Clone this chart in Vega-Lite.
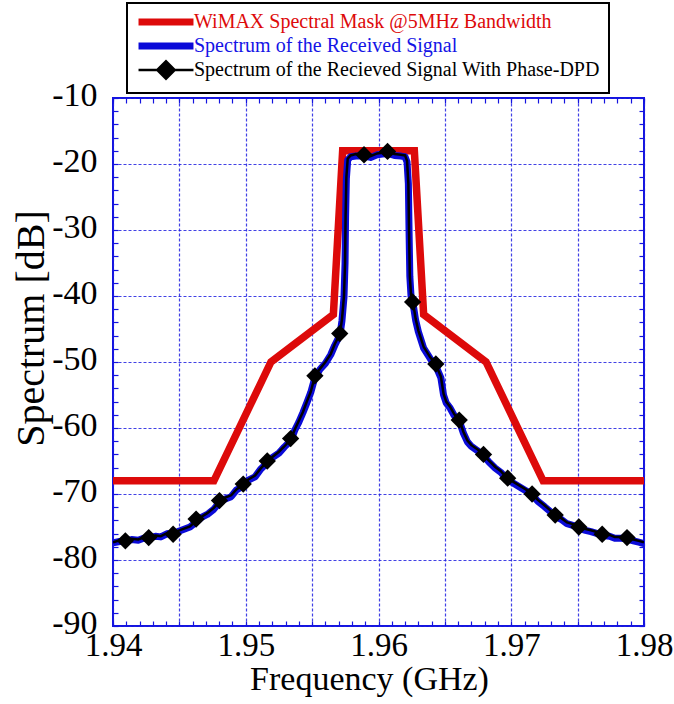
{
  "$schema": "https://vega.github.io/schema/vega-lite/v6.json",
  "width": 531,
  "height": 528,
  "autosize": "none",
  "padding": {"left": 113, "top": 98, "right": 30, "bottom": 78},
  "background": "white",
  "config": {
    "font": "Liberation Serif",
    "text": {"font": "Liberation Serif"},
    "style": {"guide-label": {"font": "Liberation Serif"}, "guide-title": {"font": "Liberation Serif"}},
    "view": {"stroke": "#1414e0", "strokeWidth": 2},
    "axis": {"domain": false, "labelFont": "Liberation Serif", "titleFont": "Liberation Serif", "labelColor": "black", "titleColor": "black", "titleFontWeight": "normal", "tickColor": "#1414e0", "tickWidth": 1.2, "labelOverlap": false, "labelFlush": false}
  },
  "datasets": {
    "mask": [
      {"f": 1.94, "v": -68}, {"f": 1.9476, "v": -68}, {"f": 1.9519, "v": -50}, {"f": 1.9566, "v": -42.8},
      {"f": 1.9573, "v": -18}, {"f": 1.9627, "v": -18}, {"f": 1.9634, "v": -42.8}, {"f": 1.9681, "v": -50},
      {"f": 1.9724, "v": -68}, {"f": 1.98, "v": -68}
    ],
    "rx": [
      {"f": 1.9400, "v": -77.4}, {"f": 1.9405, "v": -77.2}, {"f": 1.9409, "v": -77.2}, {"f": 1.9414, "v": -76.9},
      {"f": 1.9419, "v": -77.0}, {"f": 1.9423, "v": -76.7}, {"f": 1.9427, "v": -76.7}, {"f": 1.9432, "v": -76.4},
      {"f": 1.9436, "v": -76.5}, {"f": 1.9441, "v": -76.0}, {"f": 1.9445, "v": -76.1}, {"f": 1.9450, "v": -75.6},
      {"f": 1.9454, "v": -75.3}, {"f": 1.9458, "v": -75.0}, {"f": 1.9463, "v": -74.2}, {"f": 1.9467, "v": -73.5},
      {"f": 1.9471, "v": -73.1}, {"f": 1.9476, "v": -72.3}, {"f": 1.9480, "v": -71.3}, {"f": 1.9484, "v": -70.8},
      {"f": 1.9489, "v": -70.4}, {"f": 1.9493, "v": -69.4}, {"f": 1.9498, "v": -68.8}, {"f": 1.9502, "v": -67.9},
      {"f": 1.9507, "v": -67.4}, {"f": 1.9511, "v": -66.3}, {"f": 1.9516, "v": -65.3}, {"f": 1.9520, "v": -64.5},
      {"f": 1.9525, "v": -63.8}, {"f": 1.9529, "v": -62.9}, {"f": 1.9534, "v": -61.9}, {"f": 1.9537, "v": -60.3},
      {"f": 1.9540, "v": -59.1}, {"f": 1.9543, "v": -57.7}, {"f": 1.9546, "v": -56.2}, {"f": 1.9549, "v": -54.6},
      {"f": 1.9552, "v": -52.4}, {"f": 1.9556, "v": -51.1}, {"f": 1.9560, "v": -50.2}, {"f": 1.9564, "v": -48.9},
      {"f": 1.9567, "v": -47.5}, {"f": 1.9571, "v": -45.9}, {"f": 1.95725, "v": -43.7}, {"f": 1.9574, "v": -40.2},
      {"f": 1.95748, "v": -35}, {"f": 1.95752, "v": -28}, {"f": 1.95758, "v": -22.2}, {"f": 1.95768, "v": -19.4},
      {"f": 1.9579, "v": -18.9}, {"f": 1.9583, "v": -18.8}, {"f": 1.9589, "v": -18.8}, {"f": 1.9594, "v": -19.0},
      {"f": 1.9599, "v": -18.6}, {"f": 1.9603, "v": -18.5}, {"f": 1.9607, "v": -18.4}, {"f": 1.9612, "v": -18.7},
      {"f": 1.9617, "v": -18.8}, {"f": 1.9620, "v": -18.9}, {"f": 1.96215, "v": -19.7}, {"f": 1.96225, "v": -23},
      {"f": 1.9623, "v": -30}, {"f": 1.96236, "v": -37}, {"f": 1.96245, "v": -40}, {"f": 1.9626, "v": -41.1},
      {"f": 1.9628, "v": -43.7}, {"f": 1.9630, "v": -45.4}, {"f": 1.9634, "v": -47.9}, {"f": 1.9639, "v": -49.5},
      {"f": 1.9643, "v": -50.5}, {"f": 1.9647, "v": -52.4}, {"f": 1.9649, "v": -55.0}, {"f": 1.9651, "v": -56.2},
      {"f": 1.9654, "v": -57.0}, {"f": 1.9657, "v": -58.1}, {"f": 1.9661, "v": -59.0}, {"f": 1.9664, "v": -60.8},
      {"f": 1.9667, "v": -62.1}, {"f": 1.9670, "v": -62.8}, {"f": 1.9675, "v": -63.5}, {"f": 1.9679, "v": -64.2},
      {"f": 1.9683, "v": -65.1}, {"f": 1.9688, "v": -66.1}, {"f": 1.9692, "v": -66.7}, {"f": 1.9697, "v": -67.8},
      {"f": 1.9702, "v": -68.4}, {"f": 1.9706, "v": -68.9}, {"f": 1.9711, "v": -69.5}, {"f": 1.9716, "v": -70.2},
      {"f": 1.9720, "v": -71.1}, {"f": 1.9725, "v": -71.9}, {"f": 1.9729, "v": -72.6}, {"f": 1.9733, "v": -73.4},
      {"f": 1.9738, "v": -73.9}, {"f": 1.9742, "v": -74.5}, {"f": 1.9747, "v": -74.8}, {"f": 1.9751, "v": -75.2},
      {"f": 1.9756, "v": -75.5}, {"f": 1.9760, "v": -75.7}, {"f": 1.9765, "v": -76.0}, {"f": 1.9769, "v": -76.3},
      {"f": 1.9774, "v": -76.4}, {"f": 1.9778, "v": -76.7}, {"f": 1.9783, "v": -76.7}, {"f": 1.9787, "v": -76.8},
      {"f": 1.9792, "v": -77.1}, {"f": 1.9796, "v": -77.3}, {"f": 1.9800, "v": -77.5}
    ],
    "dpd": [
      {"f": 1.9400, "v": -77.3}, {"f": 1.9405, "v": -77.0}, {"f": 1.9409, "v": -77.1}, {"f": 1.9414, "v": -76.8},
      {"f": 1.9419, "v": -76.9}, {"f": 1.9423, "v": -76.6}, {"f": 1.9427, "v": -76.6}, {"f": 1.9432, "v": -76.3},
      {"f": 1.9436, "v": -76.4}, {"f": 1.9441, "v": -75.9}, {"f": 1.9445, "v": -76.0}, {"f": 1.9450, "v": -75.5},
      {"f": 1.9454, "v": -75.2}, {"f": 1.9458, "v": -74.9}, {"f": 1.9463, "v": -74.0}, {"f": 1.9467, "v": -73.4},
      {"f": 1.9471, "v": -72.9}, {"f": 1.9476, "v": -72.1}, {"f": 1.9480, "v": -71.2}, {"f": 1.9484, "v": -70.6},
      {"f": 1.9489, "v": -70.2}, {"f": 1.9493, "v": -69.3}, {"f": 1.9498, "v": -68.6}, {"f": 1.9502, "v": -67.8},
      {"f": 1.9507, "v": -67.2}, {"f": 1.9511, "v": -66.2}, {"f": 1.9516, "v": -65.1}, {"f": 1.9520, "v": -64.4},
      {"f": 1.9525, "v": -63.6}, {"f": 1.9529, "v": -62.8}, {"f": 1.9534, "v": -61.7}, {"f": 1.9537, "v": -60.2},
      {"f": 1.9540, "v": -58.9}, {"f": 1.9543, "v": -57.6}, {"f": 1.9546, "v": -56.0}, {"f": 1.9549, "v": -54.5},
      {"f": 1.9552, "v": -52.2}, {"f": 1.9556, "v": -51.0}, {"f": 1.9560, "v": -50.0}, {"f": 1.9564, "v": -48.8},
      {"f": 1.9567, "v": -47.3}, {"f": 1.9571, "v": -45.7}, {"f": 1.95725, "v": -43.5}, {"f": 1.9574, "v": -40},
      {"f": 1.95748, "v": -35}, {"f": 1.95752, "v": -28}, {"f": 1.95758, "v": -22}, {"f": 1.95768, "v": -19.2},
      {"f": 1.9579, "v": -18.7}, {"f": 1.9583, "v": -18.5}, {"f": 1.9589, "v": -18.6}, {"f": 1.9594, "v": -18.8},
      {"f": 1.9599, "v": -18.4}, {"f": 1.9603, "v": -18.3}, {"f": 1.9607, "v": -18.1}, {"f": 1.9612, "v": -18.5},
      {"f": 1.9617, "v": -18.6}, {"f": 1.9620, "v": -18.7}, {"f": 1.96215, "v": -19.5}, {"f": 1.96225, "v": -23},
      {"f": 1.9623, "v": -30}, {"f": 1.96236, "v": -37}, {"f": 1.96245, "v": -39.8}, {"f": 1.9626, "v": -40.9},
      {"f": 1.9628, "v": -43.5}, {"f": 1.9630, "v": -45.2}, {"f": 1.9634, "v": -47.7}, {"f": 1.9639, "v": -49.3},
      {"f": 1.9643, "v": -50.3}, {"f": 1.9647, "v": -52.2}, {"f": 1.9649, "v": -54.8}, {"f": 1.9651, "v": -56.0},
      {"f": 1.9654, "v": -56.8}, {"f": 1.9657, "v": -57.9}, {"f": 1.9661, "v": -58.8}, {"f": 1.9664, "v": -60.6},
      {"f": 1.9667, "v": -61.9}, {"f": 1.9670, "v": -62.6}, {"f": 1.9675, "v": -63.3}, {"f": 1.9679, "v": -64.0},
      {"f": 1.9683, "v": -64.9}, {"f": 1.9688, "v": -65.9}, {"f": 1.9692, "v": -66.5}, {"f": 1.9697, "v": -67.6},
      {"f": 1.9702, "v": -68.2}, {"f": 1.9706, "v": -68.7}, {"f": 1.9711, "v": -69.3}, {"f": 1.9716, "v": -70.0},
      {"f": 1.9720, "v": -70.9}, {"f": 1.9725, "v": -71.7}, {"f": 1.9729, "v": -72.4}, {"f": 1.9733, "v": -73.2},
      {"f": 1.9738, "v": -73.7}, {"f": 1.9742, "v": -74.3}, {"f": 1.9747, "v": -74.6}, {"f": 1.9751, "v": -75.0},
      {"f": 1.9756, "v": -75.3}, {"f": 1.9760, "v": -75.5}, {"f": 1.9765, "v": -75.8}, {"f": 1.9769, "v": -76.1},
      {"f": 1.9774, "v": -76.2}, {"f": 1.9778, "v": -76.5}, {"f": 1.9783, "v": -76.5}, {"f": 1.9787, "v": -76.6},
      {"f": 1.9792, "v": -76.9}, {"f": 1.9796, "v": -77.1}, {"f": 1.9800, "v": -77.3}
    ],
    "mk": [
      {"f": 1.94093, "v": -77.1}, {"f": 1.94269, "v": -76.6}, {"f": 1.94453, "v": -76.1}, {"f": 1.94626, "v": -73.8},
      {"f": 1.94802, "v": -71.0}, {"f": 1.94981, "v": -68.5}, {"f": 1.95162, "v": -65.0}, {"f": 1.95338, "v": -61.6},
      {"f": 1.95521, "v": -52.1}, {"f": 1.95708, "v": -45.7}, {"f": 1.95891, "v": -18.6}, {"f": 1.96068, "v": -18.1},
      {"f": 1.96257, "v": -40.9}, {"f": 1.96432, "v": -50.3}, {"f": 1.96608, "v": -58.8}, {"f": 1.96791, "v": -64.0},
      {"f": 1.96973, "v": -67.6}, {"f": 1.97157, "v": -70.0}, {"f": 1.97331, "v": -73.2}, {"f": 1.97509, "v": -75.0},
      {"f": 1.97685, "v": -76.1}, {"f": 1.97872, "v": -76.6}
    ]
  },
  "layer": [
    {
      "data": {"name": "mask"},
      "mark": {"type": "line", "strokeWidth": 7.5, "strokeJoin": "miter", "strokeCap": "butt", "clip": true},
      "encoding": {
        "x": {"field": "f", "type": "quantitative", "scale": {"domain": [1.94, 1.98], "nice": false, "zero": false},
          "axis": {
            "orient": "bottom",
            "values": [1.94,1.941,1.942,1.943,1.944,1.945,1.946,1.947,1.948,1.949,1.95,1.951,1.952,1.953,1.954,1.955,1.956,1.957,1.958,1.959,1.96,1.961,1.962,1.963,1.964,1.965,1.966,1.967,1.968,1.969,1.97,1.971,1.972,1.973,1.974,1.975,1.976,1.977,1.978,1.979,1.98],
            "labelExpr": "abs(datum.value*100 - round(datum.value*100)) < 0.01 ? format(datum.value, '.2f') : ''",
            "grid": true, "gridColor": "#2020e0", "gridDash": [3, 2], "gridWidth": 1.2,
            "gridOpacity": {"condition": {"test": "abs(datum.value*200 - round(datum.value*200)) < 0.01", "value": 0.85}, "value": 0},
            "tickSize": -5, "labelFont": "Liberation Serif", "labelFontSize": 33, "labelPadding": 8,
            "title": "Frequency (GHz)", "titleFont": "Liberation Serif", "titleFontSize": 34, "titlePadding": 0, "titleX": 256
          }},
        "y": {"field": "v", "type": "quantitative", "scale": {"domain": [-90, -10], "nice": false, "zero": false},
          "axis": {
            "orient": "left",
            "values": [-90,-88,-86,-84,-82,-80,-78,-76,-74,-72,-70,-68,-66,-64,-62,-60,-58,-56,-54,-52,-50,-48,-46,-44,-42,-40,-38,-36,-34,-32,-30,-28,-26,-24,-22,-20,-18,-16,-14,-12,-10],
            "labelExpr": "datum.value % 10 == 0 ? toString(datum.value) : ''",
            "grid": true, "gridColor": "#2020e0", "gridDash": [3, 2], "gridWidth": 1.2,
            "gridOpacity": {"condition": {"test": "datum.value % 10 == 0", "value": 0.85}, "value": 0},
            "tickSize": -5, "labelFont": "Liberation Serif", "labelFontSize": 34, "labelPadding": 21, "labelBaseline": "middle", "labelOffset": -3,
            "title": "Spectrum [dB]", "titleFont": "Liberation Serif", "titleFontSize": 40, "titlePadding": 0, "titleY": 230
          }},
        "color": {"datum": "WiMAX Spectral Mask @5MHz Bandwidth", "type": "nominal",
          "scale": {"domain": ["WiMAX Spectral Mask @5MHz Bandwidth", "Spectrum of the Received Signal", "Spectrum of the Recieved Signal With Phase-DPD"], "range": ["#dd0a0a", "#0a0ad8", "#000000"]},
          "legend": {
            "orient": "none", "legendX": 14, "legendY": -95, "title": null,
            "symbolSize": 144, "symbolOffset": 20, "labelOffset": 18,
            "labelFont": "Liberation Serif", "labelFontSize": 20, "labelLimit": 600,
            "padding": 9, "rowPadding": -8,
            "fillColor": "white", "strokeColor": "black",
            "encode": {
              "legend": {"update": {"strokeWidth": {"value": 2}}},
              "symbols": {"update": {
                "shape": {"signal": "datum.value == 'Spectrum of the Recieved Signal With Phase-DPD' ? 'M-4.58,0H4.58M-1.45,0L0,-1.45L1.45,0L0,1.45Z' : 'M-4.58,0H4.58'"},
                "strokeWidth": {"signal": "datum.value == 'Spectrum of the Recieved Signal With Phase-DPD' ? 2.5 : 7"},
                "stroke": {"signal": "datum.value == 'WiMAX Spectral Mask @5MHz Bandwidth' ? '#dd0a0a' : datum.value == 'Spectrum of the Recieved Signal With Phase-DPD' ? '#000000' : '#0a0ad8'"},
                "fill": {"signal": "datum.value == 'Spectrum of the Recieved Signal With Phase-DPD' ? '#000000' : 'transparent'"},
                "opacity": {"value": 1}
              }},
              "labels": {"update": {
                "fill": {"signal": "datum.value == 'WiMAX Spectral Mask @5MHz Bandwidth' ? '#dd0a0a' : datum.value == 'Spectrum of the Recieved Signal With Phase-DPD' ? '#000000' : '#1414e6'"}
              }}
            }
          }}
      }
    },
    {
      "data": {"name": "rx"},
      "mark": {"type": "line", "strokeWidth": 7, "strokeJoin": "round", "clip": true},
      "encoding": {
        "x": {"field": "f", "type": "quantitative",
          "axis": {"orient": "top", "values": [1.94,1.941,1.942,1.943,1.944,1.945,1.946,1.947,1.948,1.949,1.95,1.951,1.952,1.953,1.954,1.955,1.956,1.957,1.958,1.959,1.96,1.961,1.962,1.963,1.964,1.965,1.966,1.967,1.968,1.969,1.97,1.971,1.972,1.973,1.974,1.975,1.976,1.977,1.978,1.979,1.98],
            "labels": false, "grid": false, "tickSize": -5, "title": null}},
        "y": {"field": "v", "type": "quantitative",
          "axis": {"orient": "right", "values": [-90,-88,-86,-84,-82,-80,-78,-76,-74,-72,-70,-68,-66,-64,-62,-60,-58,-56,-54,-52,-50,-48,-46,-44,-42,-40,-38,-36,-34,-32,-30,-28,-26,-24,-22,-20,-18,-16,-14,-12,-10],
            "labels": false, "grid": false, "tickSize": -5, "title": null}},
        "color": {"datum": "Spectrum of the Received Signal", "type": "nominal"}
      }
    },
    {
      "data": {"name": "dpd"},
      "mark": {"type": "line", "strokeWidth": 2.5, "clip": true},
      "encoding": {
        "x": {"field": "f", "type": "quantitative", "axis": null},
        "y": {"field": "v", "type": "quantitative", "axis": null},
        "color": {"datum": "Spectrum of the Recieved Signal With Phase-DPD", "type": "nominal"}
      }
    },
    {
      "data": {"name": "mk"},
      "mark": {"type": "point", "shape": "diamond", "size": 300, "filled": true, "opacity": 1, "color": "#000000"},
      "encoding": {
        "x": {"field": "f", "type": "quantitative", "axis": null},
        "y": {"field": "v", "type": "quantitative", "axis": null}
      }
    }
  ],
  "resolve": {"axis": {"x": "independent", "y": "independent"}}
}
